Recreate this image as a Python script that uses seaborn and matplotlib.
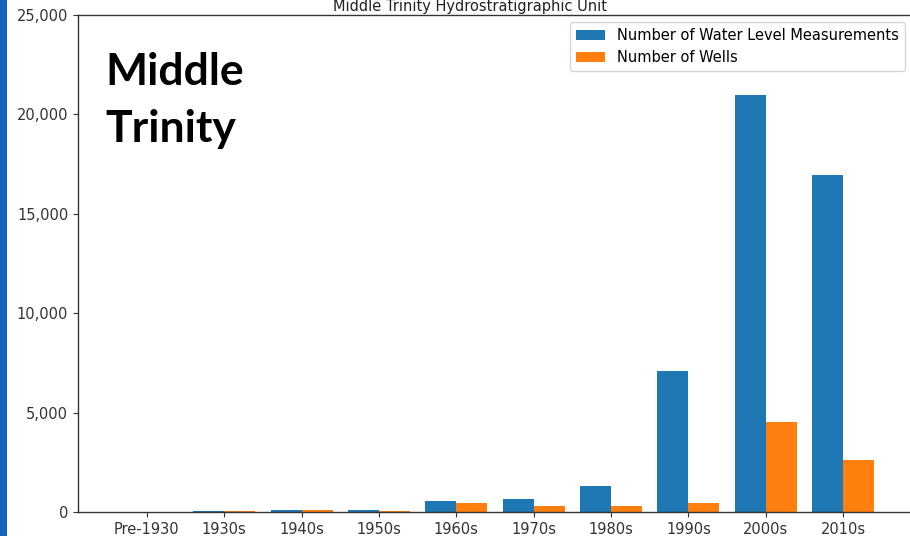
import matplotlib
matplotlib.use("Agg")
import matplotlib.pyplot as plt
import matplotlib.ticker as mticker
from matplotlib.patches import Rectangle
import pandas as pd
import seaborn as sns

decades = ["Pre-1930", "1930s", "1940s", "1950s", "1960s", "1970s", "1980s", "1990s", "2000s", "2010s"]
measurements = [20, 50, 110, 90, 570, 670, 1310, 7100, 21000, 16950]
wells = [10, 40, 90, 50, 440, 320, 320, 440, 4510, 2620]
series_names = ["Number of Water Level Measurements", "Number of Wells"]
title_text = "Middle Trinity Hydrostratigraphic Unit"
overlay_lines = ["Middle", "Trinity"]

df = pd.DataFrame({
    "decade": decades * 2,
    "value": measurements + wells,
    "series": [series_names[0]] * len(decades) + [series_names[1]] * len(decades),
})

W, H = 910, 536
fig = plt.figure(figsize=(W / 100, H / 100), dpi=100)
fig.patch.set_facecolor("white")

# blue slide strip on the left
fig.patches.append(Rectangle((0, 0), 7 / W, 1, transform=fig.transFigure,
                             facecolor="#1565c0", edgecolor="none", zorder=0))

ax = fig.add_axes([78 / W, (H - 512) / H, (912 - 78) / W, (512 - 15) / H])
sns.barplot(data=df, x="decade", y="value", hue="series", order=decades,
            hue_order=series_names, palette=["#1f77b4", "#ff7f0e"],
            saturation=1, width=0.8, ax=ax, legend=True)

ax.set_xlim(-0.89, len(decades) - 1 + 0.89)
ax.set_ylim(0, 25000)
ax.set_yticks([0, 5000, 10000, 15000, 20000, 25000])
ax.yaxis.set_major_formatter(mticker.FuncFormatter(lambda v, p: f"{v:,.0f}"))
ax.set_xlabel("")
ax.set_ylabel("")
ax.tick_params(axis="both", labelsize=10.5, colors="#333333", labelcolor="#333333")
for s in ax.spines.values():
    s.set_color("#333333")
    s.set_linewidth(1.0)

ax.legend(loc="upper right", fontsize=10.5, frameon=True)

fig.text(470 / W, 1 - 11 / H, title_text, ha="center", va="baseline",
         fontsize=10.5, color="#222222", family="DejaVu Sans")

fig.text(105 / W, 1 - 85 / H, overlay_lines[0], ha="left", va="baseline",
         fontsize=32, fontweight="bold", family="Lato", color="black")
fig.text(105 / W, 1 - 142 / H, overlay_lines[1], ha="left", va="baseline",
         fontsize=32, fontweight="bold", family="Lato", color="black")

fig.savefig("out.png", dpi=100)
